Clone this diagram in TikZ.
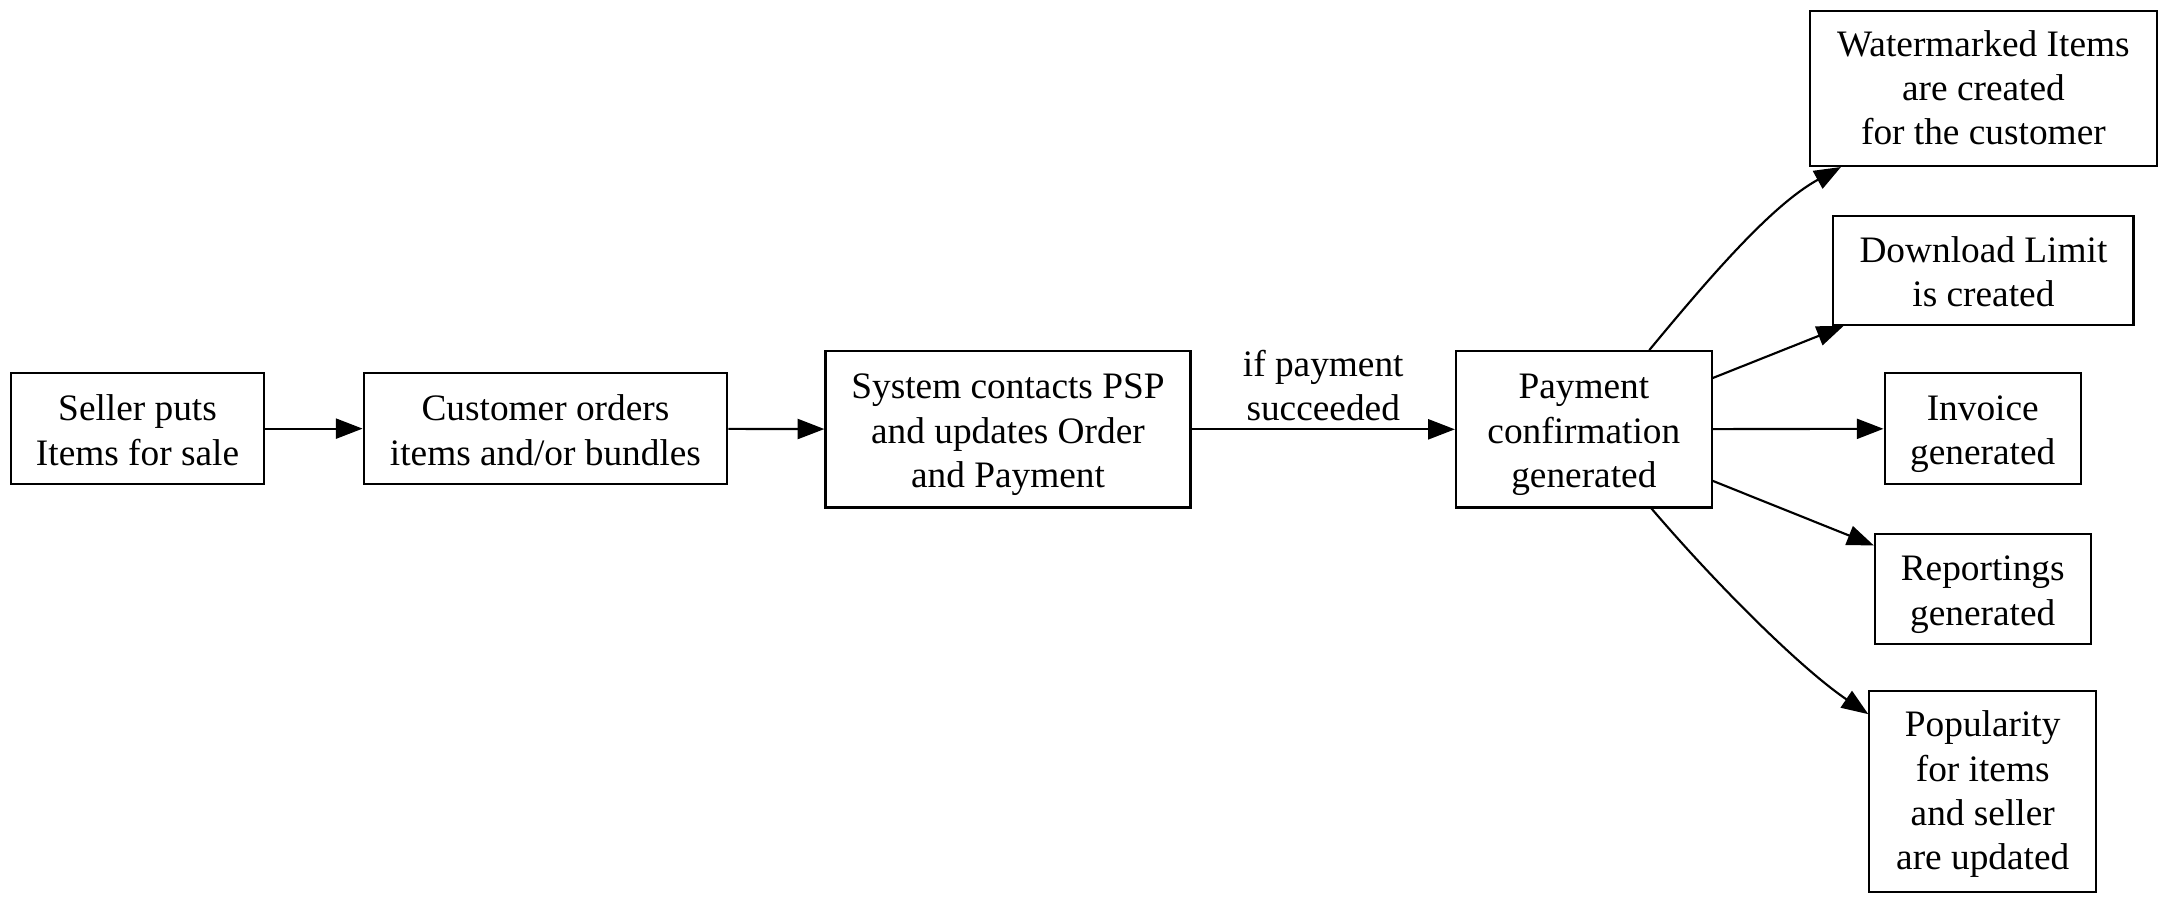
\documentclass[tikz,border=0pt]{standalone}
\usepackage{fontspec}
\setmainfont{Liberation Serif}
\usetikzlibrary{arrows.meta}
\newcommand\lastd{\rule[-0.22em]{0pt}{0pt}}
\begin{document}
\begin{tikzpicture}[x=0.5185pt,y=-0.5185pt,
  box/.style 2 args={draw, line width=0.8pt, inner sep=0pt,
    minimum width=#1*0.5185pt, minimum height=#2*0.5185pt},
  txt/.style={align=center, inner sep=0pt, yshift=-2.1pt,
    font=\fontsize{14}{16.6}\selectfont},
  lbl/.style={align=center, inner sep=0pt,
    font=\fontsize{14}{16.6}\selectfont},
  arr/.style={line width=0.8pt, -{Triangle[length=10pt,width=7.5pt]}}]
\useasboundingbox (0,0) rectangle (1568,654);
\node[box={183}{80}, label={[txt]center:{Seller puts\\Items for sale\lastd}}] (A) at (99.5,310) {};
\node[box={263}{80}, label={[txt]center:{Customer orders\\items and/or bundles\lastd}}] (B) at (394.5,310) {};
\node[box={264}{113}, label={[txt]center:{System contacts PSP\\and updates Order\\and Payment\lastd}}] (C) at (729,310.5) {};
\node[box={185}{113}, label={[txt]center:{Payment\\confirmation\\generated\lastd}}] (D) at (1145.5,310.5) {};
\node[box={251}{112}, label={[txt,yshift=1pt]center:{Watermarked Items\\are created\\for the customer\lastd}}] (E) at (1434.5,64) {};
\node[box={217}{79}, label={[txt]center:{Download Limit\\is created\lastd}}] (F) at (1434.5,195.5) {};
\node[box={142}{80}, label={[txt]center:{Invoice\\generated\lastd}}] (G) at (1434,310) {};
\node[box={156}{80}, label={[txt]center:{Reportings\\generated\lastd}}] (H) at (1434,426) {};
\node[box={164}{145}, label={[txt,yshift=1pt]center:{Popularity\\for items\\and seller\\are updated\lastd}}] (I) at (1434,572.5) {};
\node[lbl] (L) at (957,279) {if payment\\succeeded};
\draw[arr] (A) -- (B);
\draw[arr] (B) -- (C);
\draw[arr] (C) -- (D);
\draw[arr] (D) .. controls (1238.5,198) and (1282,148) .. (E);
\draw[arr] (D) -- (F);
\draw[arr] (D) -- (G);
\draw[arr] (D) -- (H);
\draw[arr] (D) .. controls (1242.5,424) and (1302.8,483.7) .. (I);
\end{tikzpicture}
\end{document}
